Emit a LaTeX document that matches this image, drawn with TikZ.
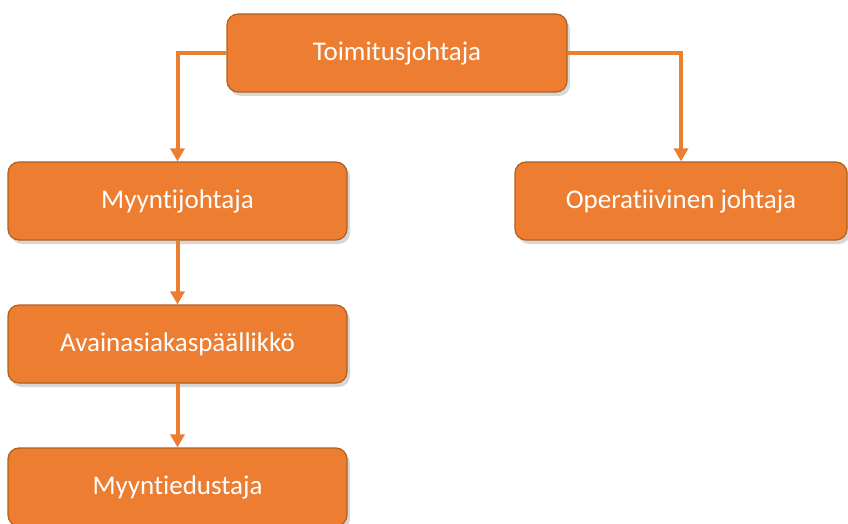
\documentclass[tikz,border=0pt]{standalone}
\usepackage{fontspec}
\setmainfont[Ligatures=NoCommon,Contextuals=NoAlternate]{Carlito}
\usetikzlibrary{arrows.meta,shadows}
\definecolor{boxfill}{HTML}{ED7D31}
\definecolor{boxedge}{HTML}{B0601F}
% keep "t" and "i" as separate glyphs
\newcommand{\tisep}{t\kern0pt i}
\tikzset{
  x=1pt, y=1pt,
  rolebox/.style={draw=boxedge, line width=1.2pt, fill=boxfill, rounded corners=11pt,
    minimum height=78pt, text=white, font=\fontsize{27}{32}\selectfont,
    drop shadow={shadow xshift=3pt, shadow yshift=-4pt, fill=black!45, opacity=0.35}},
  link/.style={draw=boxfill, line width=4pt, -{Triangle[width=14pt,length=13pt]}}
}
\begin{document}
\begin{tikzpicture}
\useasboundingbox (0,0) rectangle (848,523);
\node[rolebox, minimum width=340pt] (ceo) at (397,470) {Toimitusjohtaja};
\node[rolebox, minimum width=339pt] (sales) at (177.5,322) {Myyn\tisep johtaja};
\node[rolebox, minimum width=332pt] (ops) at (681,322) {Opera\tisep ivinen johtaja};
\node[rolebox, minimum width=339pt] (kam) at (177.5,179) {Avainasiakaspäällikkö};
\node[rolebox, minimum width=339pt] (rep) at (177.5,36) {Myyn\tisep edustaja};
\draw[link] (ceo.west) -| (sales.north);
\draw[link] (ceo.east) -| (ops.north);
\draw[link] (sales.south) -- (kam.north);
\draw[link] (kam.south) -- (rep.north);
\end{tikzpicture}
\end{document}
